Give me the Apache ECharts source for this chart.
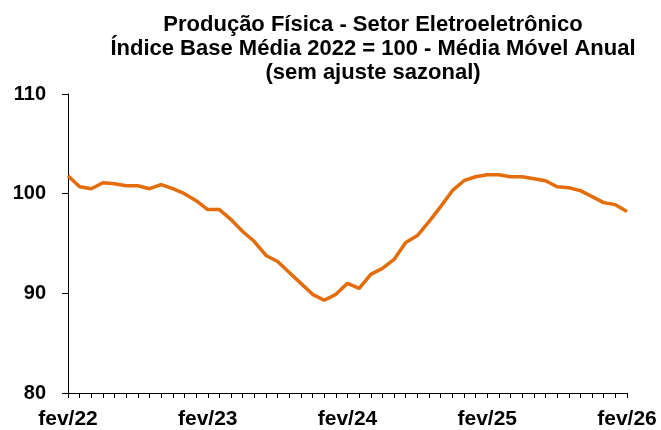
<!DOCTYPE html>
<html>
<head>
<meta charset="utf-8">
<script src="https://cdn.jsdelivr.net/npm/echarts@6/dist/echarts.min.js"></script>
<style>html,body{margin:0;padding:0;background:#fff;}#c{width:661px;height:430px;}</style>
</head>
<body>
<div id="c"></div>
<script>
const months = ["fev/22","mar/22","abr/22","mai/22","jun/22","jul/22","ago/22","set/22","out/22","nov/22","dez/22","jan/23",
"fev/23","mar/23","abr/23","mai/23","jun/23","jul/23","ago/23","set/23","out/23","nov/23","dez/23","jan/24",
"fev/24","mar/24","abr/24","mai/24","jun/24","jul/24","ago/24","set/24","out/24","nov/24","dez/24","jan/25",
"fev/25","mar/25","abr/25","mai/25","jun/25","jul/25","ago/25","set/25","out/25","nov/25","dez/25","jan/26","fev/26"];
const values = [101.8,100.7,100.5,101.1,101.0,100.8,100.8,100.5,100.9,100.5,100.0,99.3,
98.4,98.4,97.4,96.2,95.2,93.8,93.2,92.1,91.0,89.9,89.3,89.9,
91.0,90.5,91.9,92.5,93.4,95.1,95.8,97.2,98.7,100.3,101.3,101.7,
101.9,101.9,101.7,101.7,101.5,101.3,100.7,100.6,100.3,99.7,99.1,98.9,98.2];
const titleLines = ["Produção Física - Setor Eletroeletrônico","Índice Base Média 2022 = 100 - Média Móvel Anual","(sem ajuste sazonal)"];
const yTicks = {min:80, max:110, interval:10};

const chart = echarts.init(document.getElementById('c'), null, {renderer:'canvas'});
const font = '"Liberation Sans", Arial, sans-serif';
chart.setOption({
  animation:false,
  backgroundColor:'#fff',
  graphic: titleLines.map((t,i)=>({
    type:'text', x:373, y:25+i*24,
    style:{text:t, textAlign:'center', textVerticalAlign:'middle', fill:'#000',
      font:'bold 22px "Liberation Sans", Arial, sans-serif'}
  })),
  grid:{left:68, right:34, top:94, bottom:36, containLabel:false},
  xAxis:{
    type:'category', data:months, boundaryGap:false,
    axisLine:{lineStyle:{color:'#000', width:1}},
    axisTick:{show:true, interval:0, length:5, lineStyle:{color:'#000'}},
    axisLabel:{interval:11, color:'#000', fontFamily:font, fontWeight:'bold', fontSize:21, margin:16},
    splitLine:{show:false}
  },
  yAxis:{
    type:'value', min:yTicks.min, max:yTicks.max, interval:yTicks.interval,
    axisLine:{show:true, lineStyle:{color:'#000', width:1}},
    axisTick:{show:true, length:6, lineStyle:{color:'#000'}},
    axisLabel:{color:'#000', fontFamily:font, fontWeight:'bold', fontSize:20, margin:22},
    splitLine:{show:false}
  },
  series:[{
    type:'line', data:values, symbol:'none', smooth:false,
    lineStyle:{color:'#E46C0A', width:3.5}
  }]
});
</script>
</body>
</html>
